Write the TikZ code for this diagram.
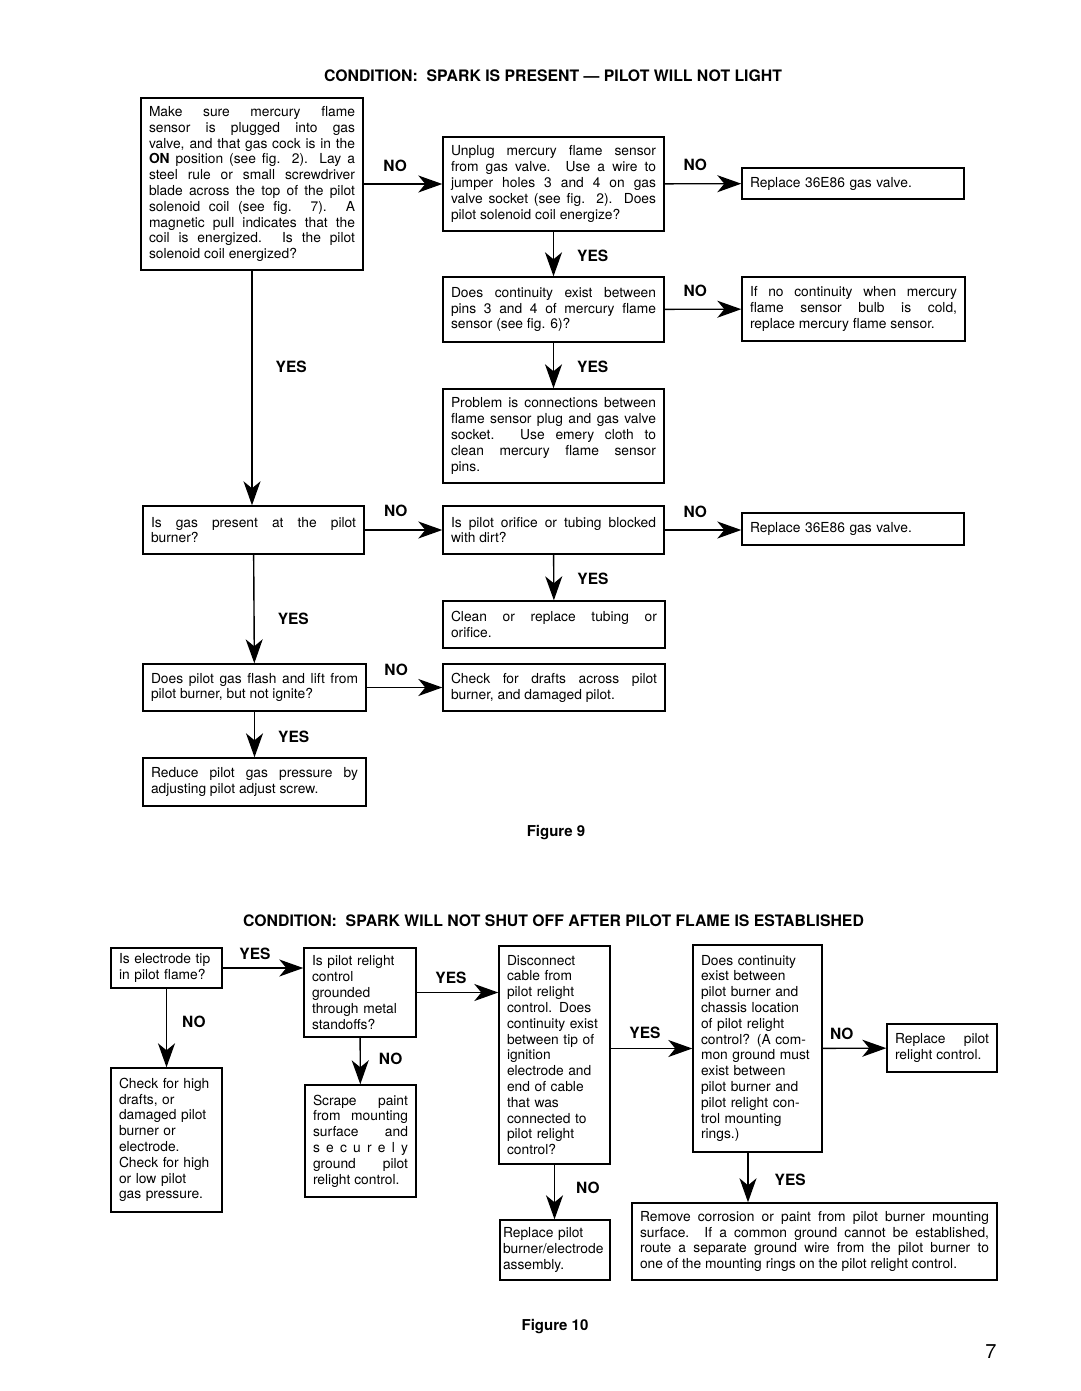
\documentclass[tikz,border=0pt]{standalone}
\usepackage{fontspec}
\setmainfont{TeX Gyre Heros}
\usetikzlibrary{arrows.meta}
\newcommand{\boxfont}{\fontsize{13.8}{15.8}\selectfont\tolerance=9999\hyphenpenalty=10000}
\newcommand{\labfont}{\fontsize{15.5}{16}\selectfont\bfseries}
\newcommand{\headfont}{\fontsize{15.8}{18}\selectfont\bfseries}

\begin{document}
\begin{tikzpicture}[x=1pt,y=-1pt,>={Stealth[length=24pt,width=17pt,inset=7pt]},
	line width=1.4pt,
	flow box/.style={draw,line width=1.4pt,inner xsep=8pt,inner ysep=0pt,font=\boxfont,align=justify},
	answer/.style={font=\labfont,inner sep=1pt}]

	\useasboundingbox (0,0) rectangle (1080,1391);

	% Figure 9
	\node[font=\headfont] (head9) at (553,76) {CONDITION:\ \ SPARK IS PRESENT --- PILOT WILL NOT LIGHT};

	\node[flow box,text width=206pt,minimum height=172pt] (make) at (252,184) {Make sure mercury flame\linebreak sensor is plugged into gas\linebreak valve, and that gas cock is in the\linebreak \textbf{ON} position (see fig. 2). Lay a\linebreak steel rule or small screwdriver\linebreak blade across the top of the pilot\linebreak solenoid coil (see fig. 7). A\linebreak magnetic pull indicates that the\linebreak coil is energized. Is the pilot\linebreak solenoid coil energized?};
	\node[flow box,text width=205pt,minimum height=94pt] (unplug) at (553.5,184) {Unplug mercury flame sensor\linebreak from gas valve. Use a wire to\linebreak jumper holes 3 and 4 on gas\linebreak valve socket (see fig. 2). Does\linebreak pilot solenoid coil energize?};
	\node[flow box,text width=206pt,minimum height=31pt,align=left] (valvea) at (853,183.5) {Replace 36E86 gas valve.};
	\node[flow box,text width=205pt,minimum height=65pt] (pins) at (553.5,309.5) {Does continuity exist between\linebreak pins 3 and 4 of mercury flame\linebreak sensor (see fig. 6)?};
	\node[flow box,text width=207pt,minimum height=64pt] (sensor) at (853.5,309) {If no continuity when mercury\linebreak flame sensor bulb is cold,\linebreak replace mercury flame sensor.};
	\node[flow box,text width=205pt,minimum height=94pt] (problem) at (553.5,436) {Problem is connections between\linebreak flame sensor plug and gas valve\linebreak socket. Use emery cloth to\linebreak clean mercury flame sensor\linebreak pins.};
	\node[flow box,text width=205pt,minimum height=48pt] (gas) at (253.5,530) {Is gas present at the pilot\linebreak burner?};
	\node[flow box,text width=205pt,minimum height=48pt] (orifice) at (553.5,530) {Is pilot orifice or tubing blocked\linebreak with dirt?};
	\node[flow box,text width=206pt,minimum height=32pt,align=left] (valveb) at (853,529) {Replace 36E86 gas valve.};
	\node[flow box,text width=206pt,minimum height=47pt] (tubing) at (554,624.5) {Clean or replace tubing or\linebreak orifice.};
	\node[flow box,text width=207pt,minimum height=47pt] (flash) at (254.5,687.5) {Does pilot gas flash and lift from\linebreak pilot burner, but not ignite?};
	\node[flow box,text width=206pt,minimum height=47pt] (drafts) at (554,687.5) {Check for drafts across pilot\linebreak burner, and damaged pilot.};
	\node[flow box,text width=207pt,minimum height=48pt] (pressure) at (254.5,782) {Reduce pilot gas pressure by\linebreak adjusting pilot adjust screw.};

	\draw[->] (make) -- (unplug) node[answer,pos=.4,above=11pt] {NO};
	\draw[->] (unplug) -- (valvea) node[answer,pos=.4,above=11pt] {NO};
	\draw[->] (unplug) -- (pins) node[answer,pos=.54,right=22pt] {YES};
	\draw[->] (pins) -- (sensor) node[answer,pos=.4,above=11pt] {NO};
	\draw[->] (pins) -- (problem) node[answer,pos=.53,right=22pt] {YES};
	\draw[->] (make) -- (make |- gas.north) node[answer,pos=.41,right=22pt] {YES};
	\draw[->] (gas) -- (orifice) node[answer,pos=.4,above=12pt] {NO};
	\draw[->] (orifice) -- (orifice -| valveb.west) node[answer,pos=.4,above=11pt] {NO};
	\draw[->] (orifice) -- (tubing) node[answer,pos=.53,right=22pt] {YES};
	\draw[->] (gas) -- (flash) node[answer,pos=.59,right=22pt] {YES};
	\draw[->] (flash) -- (drafts) node[answer,pos=.39,above=10pt] {NO};
	\draw[->] (flash) -- (pressure) node[answer,pos=.55,right=22pt] {YES};

	\node[font=\fontsize{15}{18}\selectfont\bfseries] (fig9) at (556,833) {Figure 9};

	% Figure 10
	\node[font=\headfont] (head10) at (553.5,921) {CONDITION:\ \ SPARK WILL NOT SHUT OFF AFTER PILOT FLAME IS ESTABLISHED};

	\node[flow box,text width=95pt,minimum height=40pt,align=left] (tip) at (166.5,968) {Is electrode tip\\ in pilot flame?};
	\node[flow box,text width=96pt,minimum height=89pt,align=left] (grounded) at (360,992.5) {Is pilot relight\\ control\\ grounded\\ through metal\\ standoffs?};
	\node[flow box,text width=95pt,minimum height=112pt] (scrape) at (360.5,1141) {Scrape paint\linebreak from mounting\linebreak surface and\linebreak s e c u r e l y\linebreak ground pilot\linebreak relight control.};
	\node[flow box,text width=95pt,minimum height=144pt,align=left] (highdrafts) at (166.5,1140) {Check for high\\ drafts, or\\ damaged pilot\\ burner or\\ electrode.\\ Check for high\\ or low pilot\\ gas pressure.};
	\node[flow box,text width=95pt,minimum height=218pt,align=left] (disconnect) at (554.5,1055) {Disconnect\\ cable from\\ pilot relight\\ control. Does\\ continuity exist\\ between tip of\\ ignition\\ electrode and\\ end of cable\\ that was\\ connected to\\ pilot relight\\ control?};
	\node[flow box,text width=113pt,minimum height=207pt,align=left] (chassis) at (757.5,1048.5) {Does continuity\\ exist between\\ pilot burner and\\ chassis location\\ of pilot relight\\ control? (A com-\\ mon ground must\\ exist between\\ pilot burner and\\ pilot relight con-\\ trol mounting\\ rings.)};
	\node[flow box,text width=94pt,minimum height=48pt] (relight) at (942,1048) {Replace pilot\linebreak relight control.};
	\node[flow box,text width=104pt,inner xsep=3pt,minimum height=60pt,align=left] (assembly) at (555,1250) {Replace pilot\\ burner/electrode\\ assembly.};
	\node[flow box,text width=349pt,minimum height=77pt] (corrosion) at (814.5,1241.5) {Remove corrosion or paint from pilot burner mounting\linebreak surface. If a common ground cannot be established,\linebreak route a separate ground wire from the pilot burner to\linebreak one of the mounting rings on the pilot relight control.};

	\draw[->] (tip) -- (tip -| grounded.west) node[answer,pos=.4,above=7pt] {YES};
	\draw[->] (tip) -- (highdrafts) node[answer,pos=.42,right=14pt] {NO};
	\draw[->] (grounded) -- (grounded -| disconnect.west) node[answer,pos=.42,above=7pt] {YES};
	\draw[->] (grounded) -- (scrape) node[answer,pos=.46,right=17pt] {NO};
	\draw[->] (chassis -| disconnect.east) -- (chassis) node[answer,pos=.42,above=8pt] {YES};
	\draw[->] (chassis) -- (relight) node[answer,pos=.3,above=7pt] {NO};
	\draw[->] (disconnect) -- (disconnect |- assembly.north) node[answer,pos=.43,right=20pt] {NO};
	\draw[->] ([xshift=-9.5pt]chassis.south) -- ([xshift=-9.5pt]chassis.south |- corrosion.north) node[answer,pos=.55,right=25pt] {YES};

	\node[font=\fontsize{15}{18}\selectfont\bfseries] (fig10) at (555,1327) {Figure 10};
	\node[font=\fontsize{20}{24}\selectfont] (page) at (991,1352) {7};
\end{tikzpicture}
\end{document}
